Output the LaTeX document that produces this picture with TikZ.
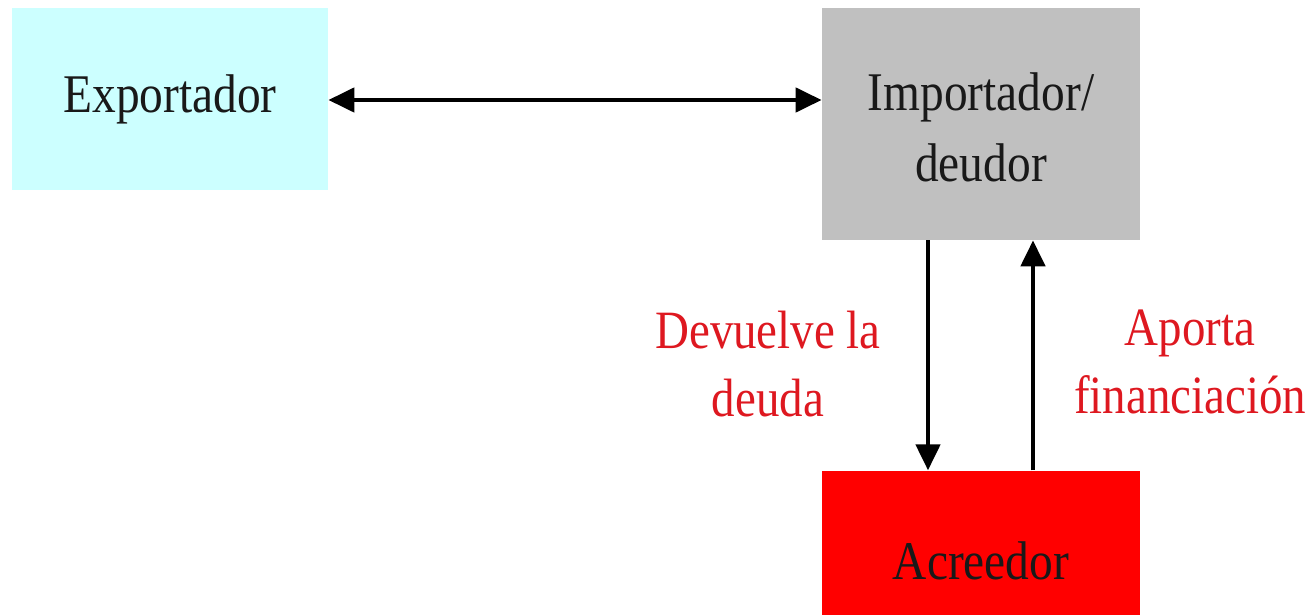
\documentclass[tikz,border=0pt]{standalone}
\usepackage{fontspec}
\setmainfont[FakeStretch=0.87]{Liberation Serif}
\usepackage{xcolor}
\usepackage{tikz}
\usetikzlibrary{positioning,arrows.meta}
\definecolor{expcyan}{RGB}{204,255,255}
\definecolor{impgray}{RGB}{192,192,192}
\definecolor{acrred}{RGB}{255,0,0}
\definecolor{notered}{RGB}{222,24,32}
\tikzstyle{party}=[rectangle, inner sep=0pt, text centered, align=center,
        text=black!90, font=\fontsize{31pt}{40pt}\selectfont]
\tikzstyle{note}=[align=center, text=notered, font=\fontsize{30.7pt}{38.5pt}\selectfont]
\tikzstyle{flow}=[line width=2.6pt, -{Triangle[length=0.52cm,width=0.48cm]}]

\begin{document}
\begin{tikzpicture}[node distance=0.1cm]
        \useasboundingbox (0,0) rectangle (26.24,-12.3);
        \clip (0,0) rectangle (26.24,-12.3);
        \node (importador) [party, fill=impgray, minimum width=6.36cm, minimum height=4.64cm]
          at (19.62,-2.48)
          {\raisebox{-0.16cm}[\height][\depth]{\begin{tabular}{@{}c@{}}Importador/\\deudor\end{tabular}}};
        \node (exportador) [party, fill=expcyan, minimum width=6.32cm, minimum height=3.64cm]
          at (3.4,-1.98) {Exportador};
        \node (acreedor) [party, fill=acrred, minimum width=6.36cm, minimum height=3.6cm,
          below=4.6cm of importador] {Acreedor};
        % flujos
        \draw[flow, {Triangle[length=0.52cm,width=0.48cm]}-{Triangle[length=0.52cm,width=0.48cm]}]
          ([yshift=-0.02cm]exportador.east) -- ([yshift=-0.02cm]exportador.east -| importador.west);
        \draw[flow] ([xshift=-1.06cm]importador.south) -- ([xshift=-1.06cm]acreedor.north);
        \draw[flow] ([xshift=1.04cm]acreedor.north) -- ([xshift=1.04cm]importador.south);
        \node (devuelve) [note] at (15.36,-7.28) {Devuelve la\\deuda};
        \node (aporta) [note] at (23.8,-7.24) {Aporta\\financiación};
      \end{tikzpicture}
\end{document}
